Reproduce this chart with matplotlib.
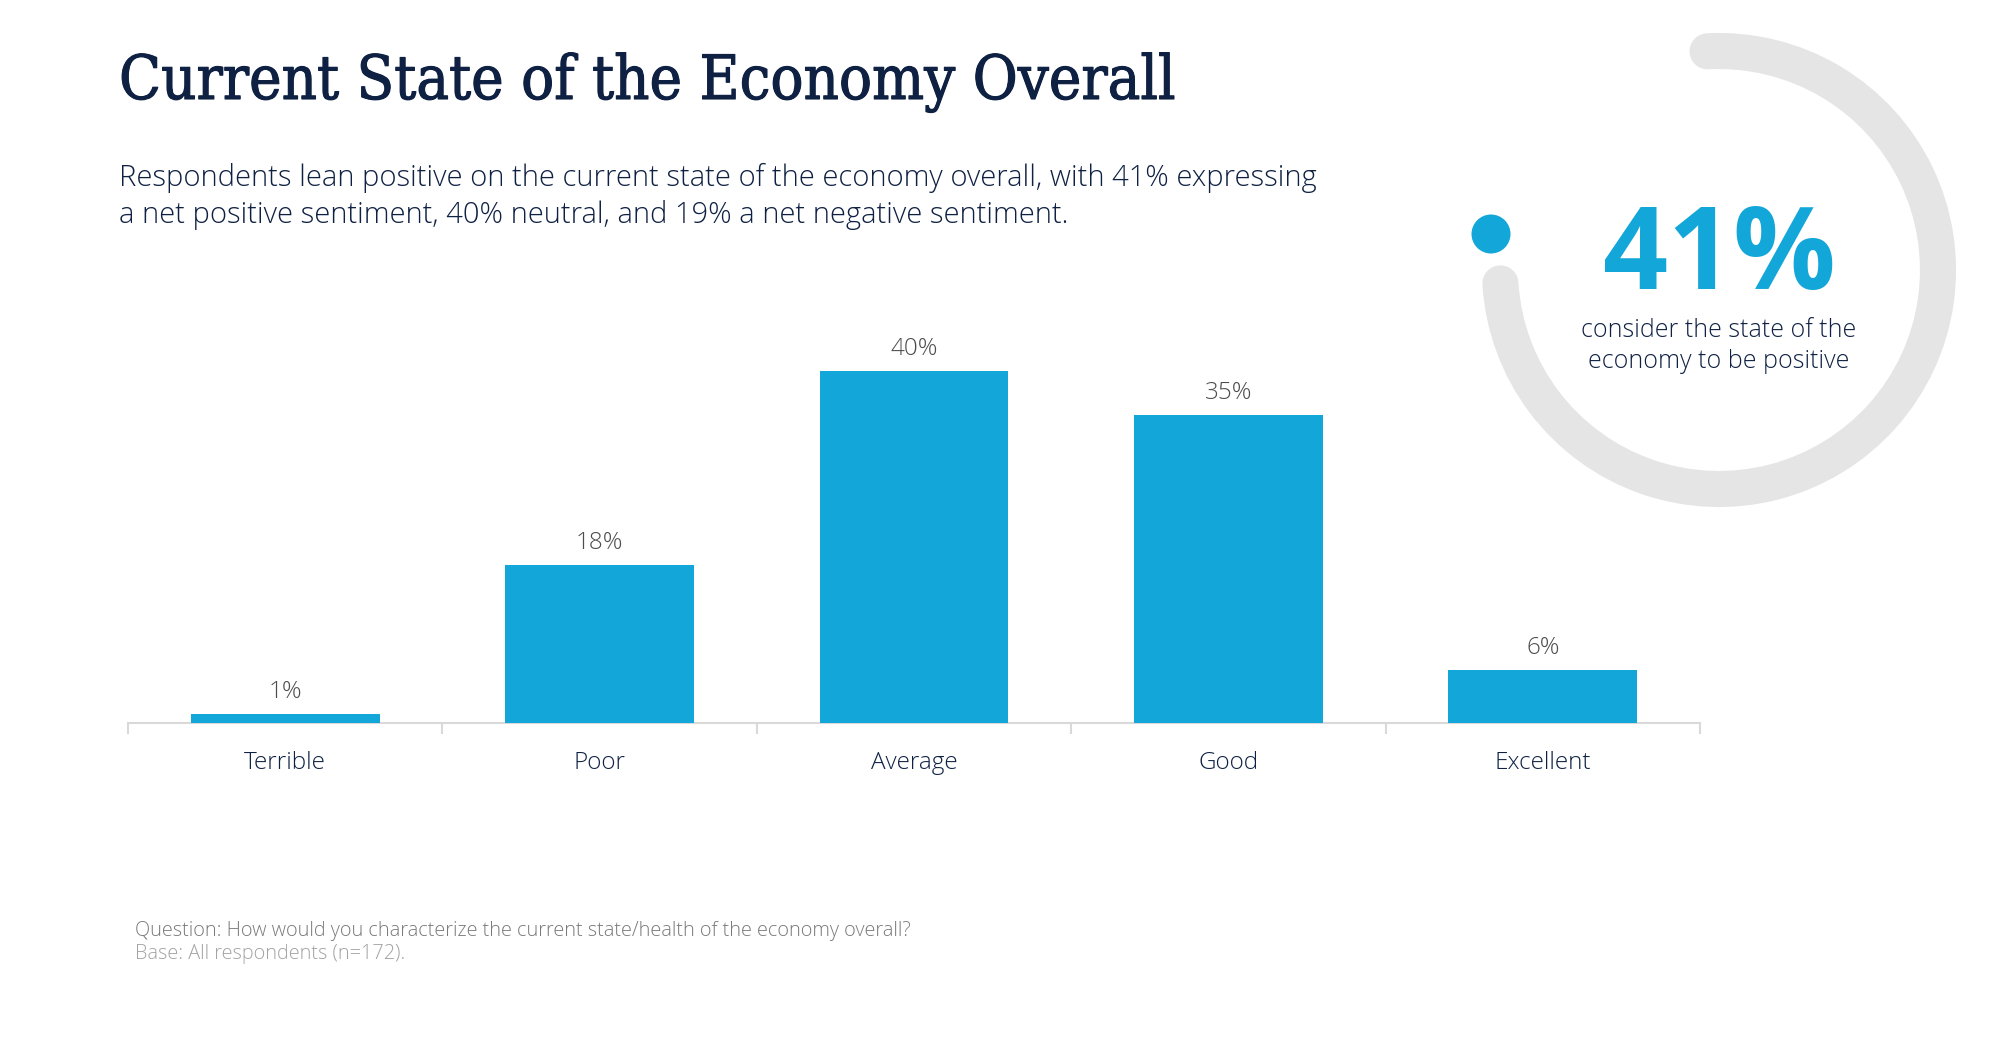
import matplotlib
matplotlib.use("Agg")
import matplotlib.pyplot as plt
from matplotlib.patches import Arc, Circle
import matplotlib.patheffects as pe

# ---- data ----
categories = ["Terrible", "Poor", "Average", "Good", "Excellent"]
values = [1, 18, 40, 35, 6]
value_labels = ["1%", "18%", "40%", "35%", "6%"]
headline_pct = "41%"
headline_text = "consider the state of the\neconomy to be positive"
title = "Current State of the Economy Overall"
subtitle_lines = [
    "Respondents lean positive on the current state of the economy overall, with 41% expressing",
    "a net positive sentiment, 40% neutral, and 19% a net negative sentiment.",
]
footnote_q = "Question: How would you characterize the current state/health of the economy overall?"
footnote_b = "Base: All respondents (n=172)."

# ---- style ----
NAVY = "#0f2143"
BLUE = "#12a7d8"
GRAY_TXT = "#4d4d4d"
RING = "#e5e5e5"
AXIS = "#d9d9d9"
SANS = ["Open Sans", "DejaVu Sans"]

W, H = 2000, 1040
fig = plt.figure(figsize=(W / 100, H / 100), dpi=100)
fig.patch.set_facecolor("white")

# overlay axes in pixel coordinates (y up)
ov = fig.add_axes([0, 0, 1, 1], zorder=0)
ov.set_xlim(0, W)
ov.set_ylim(0, H)
ov.axis("off")

# ---- bar chart ----
ax = fig.add_axes([128 / W, (H - 723) / H, (1700 - 128) / W, 396 / H], zorder=2)
ax.patch.set_alpha(0)
x = list(range(len(categories)))
bars = ax.bar(x, values, width=0.6, color=BLUE, zorder=3)
ax.set_xlim(-0.5, len(categories) - 0.5)
ax.set_ylim(0, 45)
for xi, v, lab in zip(x, values, value_labels):
    ax.annotate(lab, (xi, v), xytext=(0, 22), textcoords="offset pixels",
                ha="center", va="center", fontsize=17.5, color=GRAY_TXT,
                family=SANS, fontweight="light")
for s in ["top", "right", "left"]:
    ax.spines[s].set_visible(False)
ax.spines["bottom"].set_color(AXIS)
ax.spines["bottom"].set_linewidth(1.5)
ax.set_yticks([])
ax.set_xticks(x)
ax.set_xticklabels(categories, fontsize=17.5, color=NAVY, family=SANS,
                   fontweight="light")
ax.tick_params(axis="x", which="major", length=0, pad=20)
ax.set_xticks([i - 0.5 for i in range(len(categories) + 1)], minor=True)
ax.tick_params(axis="x", which="minor", length=8, width=1.5, color=AXIS)

# ---- titles ----
fig.text(119 / W, 1 - 99 / H, title, fontsize=44, color=NAVY,
         family="DejaVu Serif", fontstretch="condensed", va="baseline", ha="left",
         path_effects=[pe.withStroke(linewidth=0.8, foreground=NAVY)])
for i, line in enumerate(subtitle_lines):
    fig.text(119 / W, 1 - (186 + 37 * i) / H, line, fontsize=21, color=NAVY,
             family=SANS, fontweight="light", va="baseline", ha="left")

# ---- ring graphic ----
cx, cy, r_mid = 1719, H - 270, 219
ov.add_patch(Arc((cx, cy), 2 * r_mid, 2 * r_mid, theta1=183.5, theta2=453,
                 color=RING, lw=26, capstyle="round"))
ov.add_patch(Circle((1491, H - 234), 19.5, color=BLUE, lw=0))
ov.text(cx, H - 289, headline_pct, fontsize=82, fontweight="bold", color=BLUE,
        family=SANS, ha="center", va="baseline")
ov.text(cx, H - 346, headline_text, fontsize=18, color=NAVY, family=SANS,
        fontweight="light", ha="center", va="center", linespacing=1.3)

# ---- footnotes ----
fig.text(135 / W, 1 - 931 / H, footnote_q, fontsize=14.3, color="#7a7a7a",
         family=SANS, fontweight="light", va="center", ha="left")
fig.text(135 / W, 1 - 954 / H, footnote_b, fontsize=14.3, color="#a3a3a3",
         family=SANS, fontweight="light", va="center", ha="left")

fig.savefig("out.png", dpi=100, facecolor="white")
